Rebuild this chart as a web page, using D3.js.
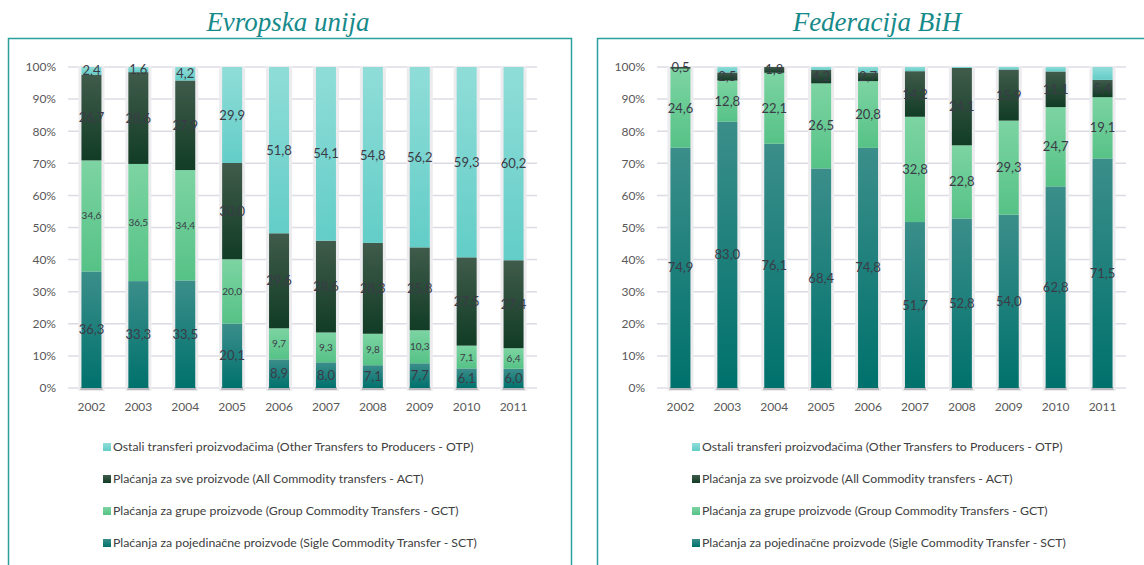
<!DOCTYPE html>
<html>
<head>
<meta charset="utf-8">
<script src="https://cdn.jsdelivr.net/npm/d3@7"></script>
<style>
  body { margin: 0; background: #fff; }
  svg { display: block; }
</style>
</head>
<body>
<div id="chart"></div>
<script>
// data (percent shares)
const years = ["2002", "2003", "2004", "2005", "2006", "2007", "2008", "2009", "2010", "2011"];

const euSCT = [36.3, 33.3, 33.5, 20.1, 8.9, 8.0, 7.1, 7.7, 6.1, 6.0];
const euGCT = [34.6, 36.5, 34.4, 20.0, 9.7, 9.3, 9.8, 10.3, 7.1, 6.4];
const euACT = [26.7, 28.6, 27.9, 30.0, 29.6, 28.6, 28.3, 25.8, 27.5, 27.4];
const euOTP = [2.4, 1.6, 4.2, 29.9, 51.8, 54.1, 54.8, 56.2, 59.3, 60.2];

const fbSCT = [74.9, 83.0, 76.1, 68.4, 74.8, 51.7, 52.8, 54.0, 62.8, 71.5];
const fbGCT = [24.6, 12.8, 22.1, 26.5, 20.8, 32.8, 22.8, 29.3, 24.7, 19.1];
const fbACT = [0.5, 2.5, 1.8, 4.2, 2.7, 14.2, 24.1, 15.9, 11.1, 5.4];
const fbOTP = [0, 1.7, 0, 0.9, 1.7, 1.3, 0.3, 0.8, 1.4, 4.0];

const seriesKeys = ["SCT", "GCT", "ACT", "OTP"];
const legendNames = [
  "Ostali transferi proizvođačima (Other Transfers to Producers - OTP)",
  "Plaćanja za sve proizvode (All Commodity transfers - ACT)",
  "Plaćanja za grupe proizvode (Group Commodity Transfers - GCT)",
  "Plaćanja za pojedinačne proizvode (Sigle Commodity Transfer - SCT)"
];
const legendKeys = ["OTP", "ACT", "GCT", "SCT"];
const yTicks = [0, 10, 20, 30, 40, 50, 60, 70, 80, 90, 100];

const gradStops = {
  SCT: ["#3b8e8a", "#00716c"],
  GCT: ["#7cd4a2", "#56c286"],
  ACT: ["#405b4b", "#113c25"],
  OTP: ["#90ddd8", "#63cdc7"]
};

const width = 1144, height = 565;

const svg = d3.select("#chart").append("svg")
  .attr("width", width)
  .attr("height", height);

const defs = svg.append("defs");
seriesKeys.forEach(k => {
  const g = defs.append("linearGradient")
    .attr("id", "grad-" + k)
    .attr("x1", 0).attr("y1", 0).attr("x2", 0).attr("y2", 1);
  g.append("stop").attr("offset", "0%").attr("stop-color", gradStops[k][0]);
  g.append("stop").attr("offset", "100%").attr("stop-color", gradStops[k][1]);
});

function buildTable(sct, gct, act, otp) {
  return years.map((y, i) => ({ year: y, SCT: sct[i], GCT: gct[i], ACT: act[i], OTP: otp[i] }));
}

function drawPanel(opts) {
  const ox = opts.offsetX;
  const g = svg.append("g").attr("transform", `translate(${ox},0)`);

  // frame + title
  g.append("rect")
    .attr("x", 8.5).attr("y", 38.5)
    .attr("width", opts.boxWidth).attr("height", 560)
    .attr("fill", "none")
    .attr("stroke", "#2a9f9b")
    .attr("stroke-width", 1.5);

  g.append("text")
    .attr("x", 288).attr("y", 31)
    .attr("text-anchor", "middle")
    .style("font-family", "'Liberation Serif', serif")
    .style("font-style", "italic")
    .style("font-size", "27px")
    .style("fill", "#178a8a")
    .text(opts.title);

  const x = d3.scaleBand().domain(years).range([68, 537]).padding(0);
  const y = d3.scaleLinear().domain([0, 100]).range([388, 67]);
  const barW = 20;

  // gridlines
  g.append("g").selectAll("line")
    .data(yTicks)
    .join("line")
    .attr("x1", 68).attr("x2", 537)
    .attr("y1", d => y(d)).attr("y2", d => y(d))
    .attr("stroke", "#dcdce4")
    .attr("stroke-width", 1.5);

  // y axis labels
  const yAxis = d3.axisLeft(y).tickValues(yTicks).tickFormat(d => d + "%").tickSize(0).tickPadding(12);
  const ya = g.append("g").attr("transform", "translate(68,0)").call(yAxis);
  ya.select(".domain").remove();
  ya.selectAll("text")
    .style("font-family", "Lato, sans-serif")
    .style("font-size", "12px")
    .style("fill", "#595959");

  // x axis labels
  const xAxis = d3.axisBottom(x).tickSize(0).tickPadding(14);
  const xa = g.append("g").attr("transform", "translate(0,388)").call(xAxis);
  xa.select(".domain").remove();
  xa.selectAll("text")
    .style("font-family", "Lato, sans-serif")
    .style("font-size", "12px")
    .style("fill", "#595959");

  const table = opts.table;
  const stacked = d3.stack().keys(seriesKeys)(table);

  // soft shadow behind each bar
  g.append("g").selectAll("rect")
    .data(table)
    .join("rect")
    .attr("x", d => x(d.year) + x.bandwidth() / 2 - barW / 2 - 3)
    .attr("width", barW + 6)
    .attr("y", d => y(d.SCT + d.GCT + d.ACT + d.OTP) - 1)
    .attr("height", d => 388 - y(d.SCT + d.GCT + d.ACT + d.OTP) + 4)
    .attr("fill", "#ececef");

  g.append("g").selectAll("rect")
    .data(table)
    .join("rect")
    .attr("x", d => x(d.year) + x.bandwidth() / 2 - barW / 2 - 1)
    .attr("width", barW + 2)
    .attr("y", 387)
    .attr("height", 3)
    .attr("fill", "#b8b8bc");

  const layers = g.append("g").selectAll("g")
    .data(stacked)
    .join("g")
    .attr("fill", d => `url(#grad-${d.key})`);

  layers.selectAll("rect")
    .data(d => d)
    .join("rect")
    .attr("x", d => x(d.data.year) + x.bandwidth() / 2 - barW / 2)
    .attr("width", barW)
    .attr("y", d => y(d[1]))
    .attr("height", d => Math.max(0, y(d[0]) - y(d[1])));

  // data labels
  const fmt = v => v.toFixed(1).replace(".", ",");
  stacked.forEach(layer => {
    if (opts.hideLabels.includes(layer.key)) return;
    const small = opts.smallLabels.includes(layer.key);
    g.append("g").selectAll("text")
      .data(layer.filter(d => d[1] - d[0] > 0))
      .join("text")
      .attr("x", d => x(d.data.year) + x.bandwidth() / 2)
      .attr("y", d => (y(d[0]) + y(d[1])) / 2)
      .attr("dy", "0.35em")
      .attr("text-anchor", "middle")
      .style("font-family", "Lato, sans-serif")
      .style("font-size", small ? "10px" : "13px")
      .style("fill", "#3b3b48")
      .text(d => fmt(d[1] - d[0]));
  });

  // legend
  const leg = g.append("g").selectAll("g")
    .data(legendKeys)
    .join("g")
    .attr("transform", (d, i) => `translate(103, ${447 + i * 32})`);

  leg.append("rect")
    .attr("x", 0).attr("y", -4)
    .attr("width", 8).attr("height", 8)
    .attr("fill", d => `url(#grad-${d})`);

  leg.append("text")
    .attr("x", 10).attr("y", 0)
    .attr("dy", "0.35em")
    .style("font-family", "Lato, sans-serif")
    .style("font-size", "12.3px")
    .style("fill", "#404040")
    .text((d, i) => legendNames[i]);
}

drawPanel({
  offsetX: 0,
  boxWidth: 563,
  title: "Evropska unija",
  table: buildTable(euSCT, euGCT, euACT, euOTP),
  smallLabels: ["GCT"],
  hideLabels: []
});

drawPanel({
  offsetX: 589,
  boxWidth: 600,
  title: "Federacija BiH",
  table: buildTable(fbSCT, fbGCT, fbACT, fbOTP),
  smallLabels: [],
  hideLabels: ["OTP"]
});
</script>
</body>
</html>
